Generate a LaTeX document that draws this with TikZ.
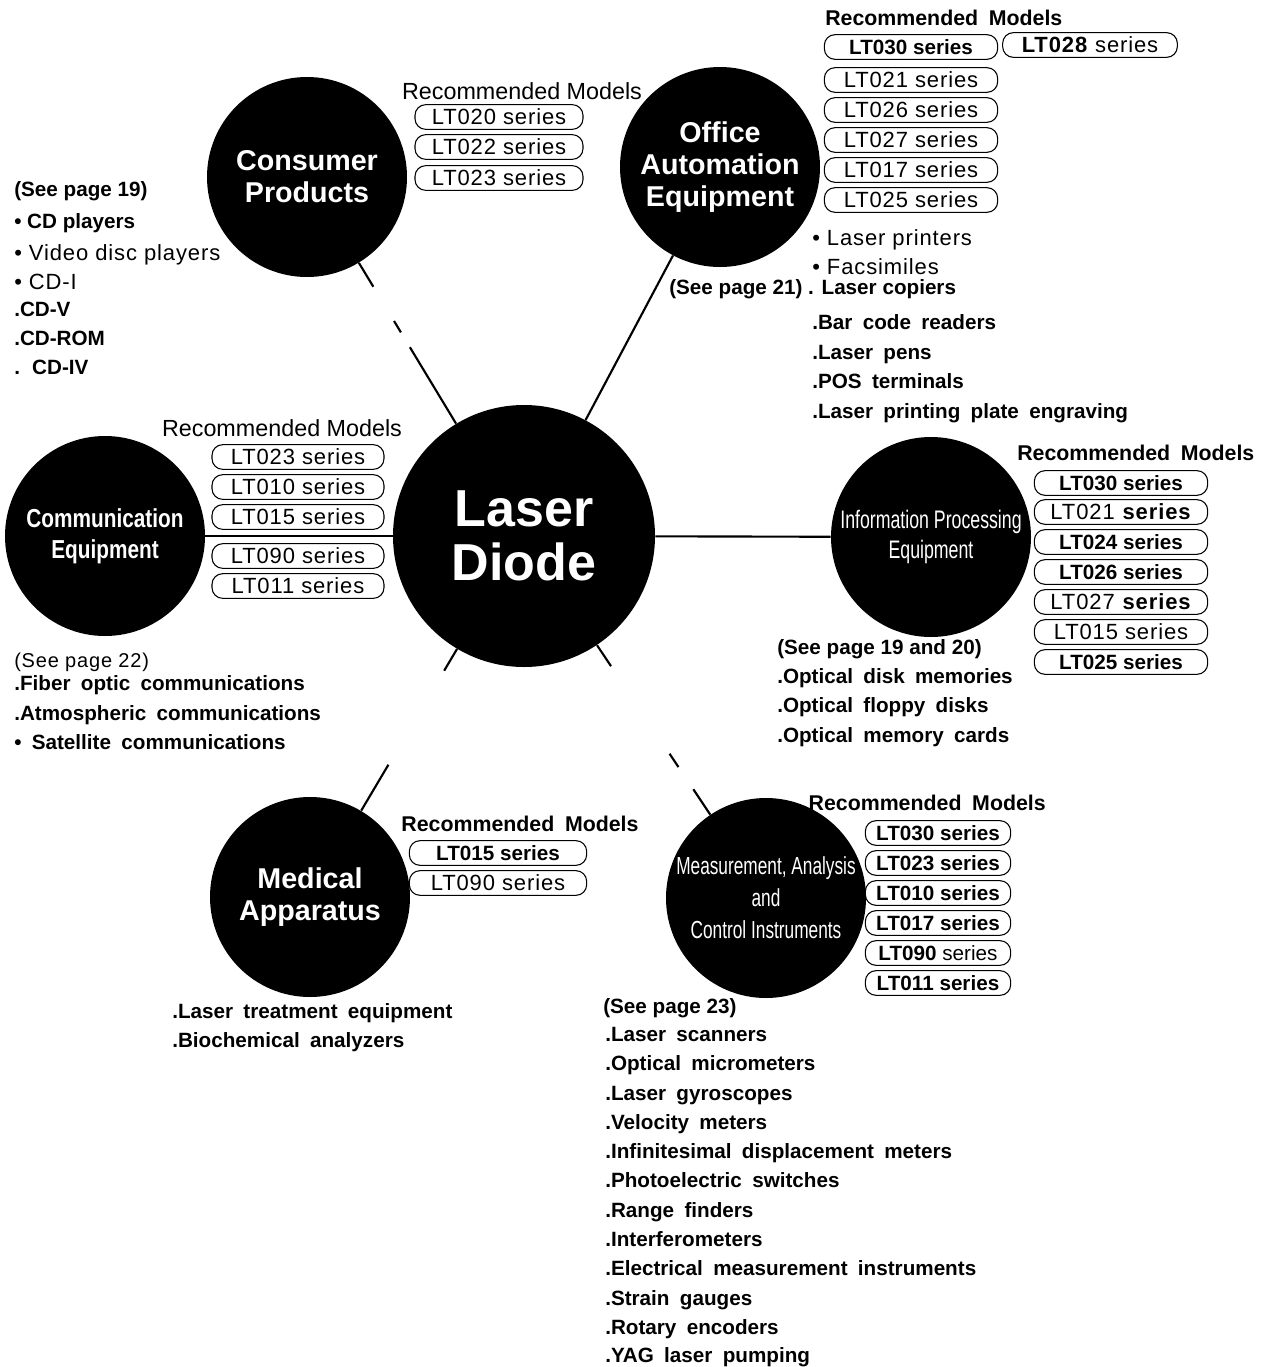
\documentclass[tikz,border=0pt]{standalone}
\usepackage{fontspec}
\setmainfont{Liberation Sans}
\newfontfamily\condB[FakeStretch=0.8]{Liberation Sans}
\newfontfamily\condR[FakeStretch=0.7]{Liberation Sans}
\newfontfamily\listf[WordSpace={1.8}]{Liberation Sans}
\newfontfamily\regf[LetterSpace=4]{Liberation Sans}
\tikzset{
  sat/.style={circle, fill=black, minimum size=150pt, inner sep=0pt, text=white, align=center},
  conn/.style={line width=1.6pt},
  modelbox/.style={draw, line width=0.8pt, rounded corners=8pt, minimum height=18.5pt, inner sep=0pt,
    font=\regf\fontsize{16.5}{18}\selectfont},
  boldbox/.style={modelbox, font=\fontsize{15.5}{18}\selectfont\bfseries},
  head/.style={inner sep=0pt, font=\fontsize{17.5}{20}\selectfont},
  headB/.style={inner sep=0pt, font=\listf\fontsize{16}{18}\selectfont\bfseries},
  itemB/.style={anchor=base west, inner sep=0pt, font=\listf\fontsize{15.5}{18}\selectfont\bfseries},
  itemBn/.style={anchor=base west, inner sep=0pt, font=\fontsize{15.5}{18}\selectfont\bfseries},
  itemR/.style={anchor=base west, inner sep=0pt, font=\regf\fontsize{16.5}{18}\selectfont},
}
\begin{document}
\begin{tikzpicture}[x=0.75pt,y=-0.75pt]
\useasboundingbox (0,0) rectangle (1265,1367);

% ---------- circles ----------
\node[sat, minimum size=196.5pt, font=\fontsize{39}{41}\selectfont\bfseries] (ctr) at (524,536) {Laser\\Diode};
\node[sat, font=\fontsize{21.5}{24}\selectfont\bfseries] (cons) at (307,177) {Consumer\\Products};
\node[sat, font=\fontsize{21.5}{24}\selectfont\bfseries] (offi) at (720,167) {Office\\Automation\\Equipment};
\node[sat, font=\condB\fontsize{19.5}{23}\selectfont\bfseries] (comm) at (105,536) {Communication\\Equipment};
\node[sat, font=\condR\fontsize{19}{23}\selectfont] (info) at (931,537) {Information Processing\\Equipment};
\node[sat, font=\fontsize{21.5}{24}\selectfont\bfseries] (med) at (310,897) {Medical\\Apparatus};
\node[sat, font=\condR\fontsize{18.5}{24}\selectfont] (meas) at (766,898) {Measurement, Analysis\\and\\Control Instruments};

% ---------- connectors ----------
\draw[conn, dash pattern=on 67pt off 13pt on 10pt off 30pt on 21pt] (ctr) -- (cons);
\draw[conn] (ctr) -- (offi);
\draw[conn] (ctr) -- (comm);
\draw[conn] (ctr) -- (info);
\draw[conn, dash pattern=on 19pt off 82pt on 40pt] (ctr) -- (med);
\draw[conn, dash pattern=on 19pt off 79pt on 12pt off 20pt on 23pt] (ctr) -- (meas);

% ---------- Consumer Products ----------
\node[head] (consH) at (522,91) {Recommended Models};
\node[modelbox, minimum width=126pt] (consM1) at (499,117) {LT020 series};
\node[modelbox, minimum width=126pt] (consM2) at (499,147) {LT022 series};
\node[modelbox, minimum width=126pt] (consM3) at (499,178) {LT023 series};
\node[itemBn] (consL0) at (14,196) {(See page 19)};
\node[itemBn] (consL1) at (14,228) {• CD players};
\node[itemR] (consL2) at (14,260) {• Video disc players};
\node[itemR] (consL3) at (14,289) {• CD-I};
\node[itemB] (consL4) at (14,316) {.CD-V};
\node[itemB] (consL5) at (14,345) {.CD-ROM};
\node[itemB] (consL6) at (14,374) {. CD-IV};

% ---------- Office Automation ----------
\node[headB, anchor=west] (offH) at (825,18) {Recommended Models};
\node[boldbox, minimum width=130pt] (offM1) at (911,47) {LT030 series};
\node[modelbox, minimum width=131pt] (offM2) at (1090,45) {\textbf{LT028} series};
\node[modelbox, minimum width=130pt] (offM3) at (911,80) {LT021 series};
\node[modelbox, minimum width=130pt] (offM4) at (911,110) {LT026 series};
\node[modelbox, minimum width=130pt] (offM5) at (911,140) {LT027 series};
\node[modelbox, minimum width=130pt] (offM6) at (911,170) {LT017 series};
\node[modelbox, minimum width=130pt] (offM7) at (911,200) {LT025 series};
\node[itemR] (offL1) at (812,245) {• Laser printers};
\node[itemR] (offL2) at (812,274) {• Facsimiles};
\node[itemBn] (offL3) at (669,294) {(See page 21) . Laser copiers};
\node[itemB] (offL4) at (812,329) {.Bar code readers};
\node[itemB] (offL5) at (812,359) {.Laser pens};
\node[itemB] (offL6) at (812,388) {.POS terminals};
\node[itemB] (offL7) at (812,418) {.Laser printing plate engraving};

% ---------- Communication ----------
\node[head] (comH) at (282,428) {Recommended Models};
\node[modelbox, minimum width=129pt] (comM1) at (298,457) {LT023 series};
\node[modelbox, minimum width=129pt] (comM2) at (298,487) {LT010 series};
\node[modelbox, minimum width=129pt] (comM3) at (298,517) {LT015 series};
\node[modelbox, minimum width=129pt] (comM4) at (298,556) {LT090 series};
\node[modelbox, minimum width=129pt] (comM5) at (298,586) {LT011 series};
\node[itemR, font=\regf\fontsize{15}{18}\selectfont] (comL0) at (14,667) {(See page 22)};
\node[itemB] (comL1) at (14,690) {.Fiber optic communications};
\node[itemB] (comL2) at (14,720) {.Atmospheric communications};
\node[itemB] (comL3) at (14,749) {• Satellite communications};

% ---------- Information Processing ----------
\node[headB, anchor=west] (infH) at (1017,453) {Recommended Models};
\node[boldbox, minimum width=130pt] (infM1) at (1121,483) {LT030 series};
\node[modelbox, minimum width=130pt] (infM2) at (1121,512) {LT021 \textbf{series}};
\node[boldbox, minimum width=130pt] (infM3) at (1121,542) {LT024 series};
\node[boldbox, minimum width=130pt] (infM4) at (1121,572) {LT026 series};
\node[modelbox, minimum width=130pt] (infM5) at (1121,602) {LT027 \textbf{series}};
\node[modelbox, minimum width=130pt] (infM6) at (1121,632) {LT015 series};
\node[boldbox, minimum width=130pt] (infM7) at (1121,662) {LT025 series};
\node[itemBn] (infL0) at (777,654) {(See page 19 and 20)};
\node[itemB] (infL1) at (777,683) {.Optical disk memories};
\node[itemB] (infL2) at (777,712) {.Optical floppy disks};
\node[itemB] (infL3) at (777,742) {.Optical memory cards};

% ---------- Medical ----------
\node[headB] (medH) at (520,824) {Recommended Models};
\node[boldbox, minimum width=133pt] (medM1) at (498,853) {LT015 series};
\node[modelbox, minimum width=133pt] (medM2) at (498,883) {LT090 series};
\node[itemB] (medL1) at (172,1018) {.Laser treatment equipment};
\node[itemB] (medL2) at (172,1047) {.Biochemical analyzers};

% ---------- Measurement ----------
\node[headB, anchor=east] (meaH) at (1046,803) {Recommended Models};
\node[boldbox, minimum width=109pt] (meaM1) at (938,833) {LT030 series};
\node[boldbox, minimum width=109pt] (meaM2) at (938,863) {LT023 series};
\node[boldbox, minimum width=109pt] (meaM3) at (938,893) {LT010 series};
\node[boldbox, minimum width=109pt] (meaM4) at (938,923) {LT017 series};
\node[modelbox, minimum width=109pt, font=\fontsize{15.5}{18}\selectfont] (meaM5) at (938,953) {\textbf{LT090} series};
\node[boldbox, minimum width=109pt] (meaM6) at (938,983) {LT011 series};
\node[itemBn] (meaL0) at (603,1013) {(See page 23)};
\node[itemB] (meaL1) at (605,1041) {.Laser scanners};
\node[itemB] (meaL2) at (605,1070) {.Optical micrometers};
\node[itemB] (meaL3) at (605,1100) {.Laser gyroscopes};
\node[itemB] (meaL4) at (605,1129) {.Velocity meters};
\node[itemB] (meaL5) at (605,1158) {.Infinitesimal displacement meters};
\node[itemB] (meaL6) at (605,1187) {.Photoelectric switches};
\node[itemB] (meaL7) at (605,1217) {.Range finders};
\node[itemB] (meaL8) at (605,1246) {.Interferometers};
\node[itemB] (meaL9) at (605,1275) {.Electrical measurement instruments};
\node[itemB] (meaL10) at (605,1305) {.Strain gauges};
\node[itemB] (meaL11) at (605,1334) {.Rotary encoders};
\node[itemB] (meaL12) at (605,1362) {.YAG laser pumping};
\end{tikzpicture}
\end{document}
